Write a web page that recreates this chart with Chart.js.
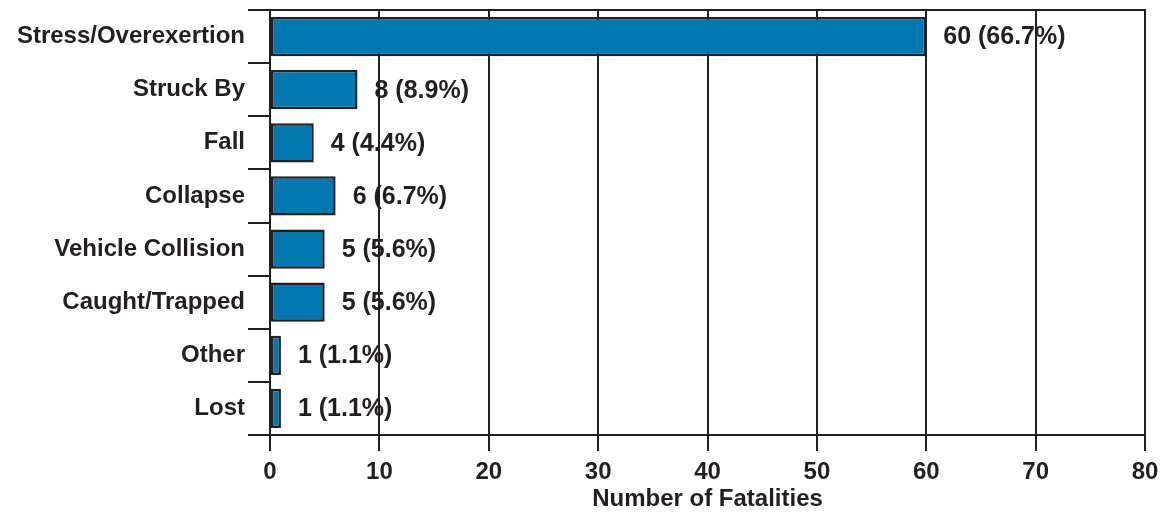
<!DOCTYPE html>
<html>
<head>
<meta charset="utf-8">
<script src="https://cdn.jsdelivr.net/npm/chart.js@4"></script>
<style>
  html, body { margin: 0; padding: 0; background: #fff; }
  #box { width: 1165px; height: 514px; }
</style>
</head>
<body>
<div id="box"><canvas id="myChart"></canvas></div>
<script>
'use strict'
let causes = ['Stress/Overexertion', 'Struck By', 'Fall', 'Collapse', 'Vehicle Collision', 'Caught/Trapped', 'Other', 'Lost'];
let deaths = [60, 8, 4, 6, 5, 5, 1, 1];
let percents = ['66.7%', '8.9%', '4.4%', '6.7%', '5.6%', '5.6%', '1.1%', '1.1%'];
let xTicks = [0, 10, 20, 30, 40, 50, 60, 70, 80];

let ink = '#231f20';
let font = 'Liberation Sans, Arial, sans-serif';

// frame round the plot (top + right edge)
let framePlugin = {
  id: 'frame',
  afterDraw(chart) {
    let a = chart.chartArea;
    let ctx = chart.ctx;
    ctx.save();
    ctx.strokeStyle = ink;
    ctx.lineWidth = 2;
    ctx.beginPath();
    ctx.moveTo(a.left - 22, a.top);
    ctx.lineTo(a.right, a.top);
    ctx.lineTo(a.right, a.bottom);
    ctx.stroke();
    ctx.restore();
  }
};

// value labels after each bar
let valuePlugin = {
  id: 'values',
  afterDatasetsDraw(chart) {
    let ctx = chart.ctx;
    let meta = chart.getDatasetMeta(0);
    ctx.save();
    ctx.fillStyle = ink;
    ctx.font = 'bold 25px ' + font;
    ctx.textBaseline = 'middle';
    meta.data.forEach(function(bar, i) {
      ctx.fillText(deaths[i] + ' (' + percents[i] + ')', bar.x + 17, bar.y + 1);
    });
    ctx.restore();
  }
};

let ctx = document.getElementById('myChart').getContext('2d');
let chart = new Chart(ctx, {
  type: 'bar',
  data: {
    labels: causes,
    datasets: [{
      data: deaths,
      backgroundColor: '#0077ae',
      borderColor: ink,
      borderWidth: 2.5,
      borderSkipped: false,
      categoryPercentage: 0.74,
      barPercentage: 1
    }]
  },
  options: {
    indexAxis: 'y',
    responsive: true,
    maintainAspectRatio: false,
    animation: false,
    layout: { padding: { top: 10, right: 20, left: 0, bottom: 0 } },
    plugins: { legend: { display: false }, tooltip: { enabled: false } },
    scales: {
      x: {
        min: 0,
        max: 80,
        afterBuildTicks: function(scale) { scale.ticks = xTicks.map(function(v) { return { value: v }; }); },
        grid: { color: ink, lineWidth: 2, tickLength: 16, drawTicks: true },
        border: { color: ink, width: 2 },
        ticks: { color: ink, font: { family: font, size: 24, weight: 'bold' }, padding: 7 },
        title: { display: true, text: 'Number of Fatalities', color: ink, font: { family: font, size: 24, weight: 'bold' }, padding: { top: 7, bottom: 0 } },
        afterFit: function(scale) { scale.height = 79; scale.paddingLeft = 0; scale.paddingRight = 0; }
      },
      y: {
        grid: { offset: true, drawOnChartArea: false, color: ink, lineWidth: 2, tickLength: 22 },
        border: { color: ink, width: 2 },
        ticks: { color: ink, font: { family: font, size: 24, weight: 'bold' }, padding: 3 },
        afterFit: function(scale) { scale.width = 270; scale.paddingTop = 0; scale.paddingBottom = 0; }
      }
    }
  },
  plugins: [framePlugin, valuePlugin]
});
</script>
</body>
</html>
